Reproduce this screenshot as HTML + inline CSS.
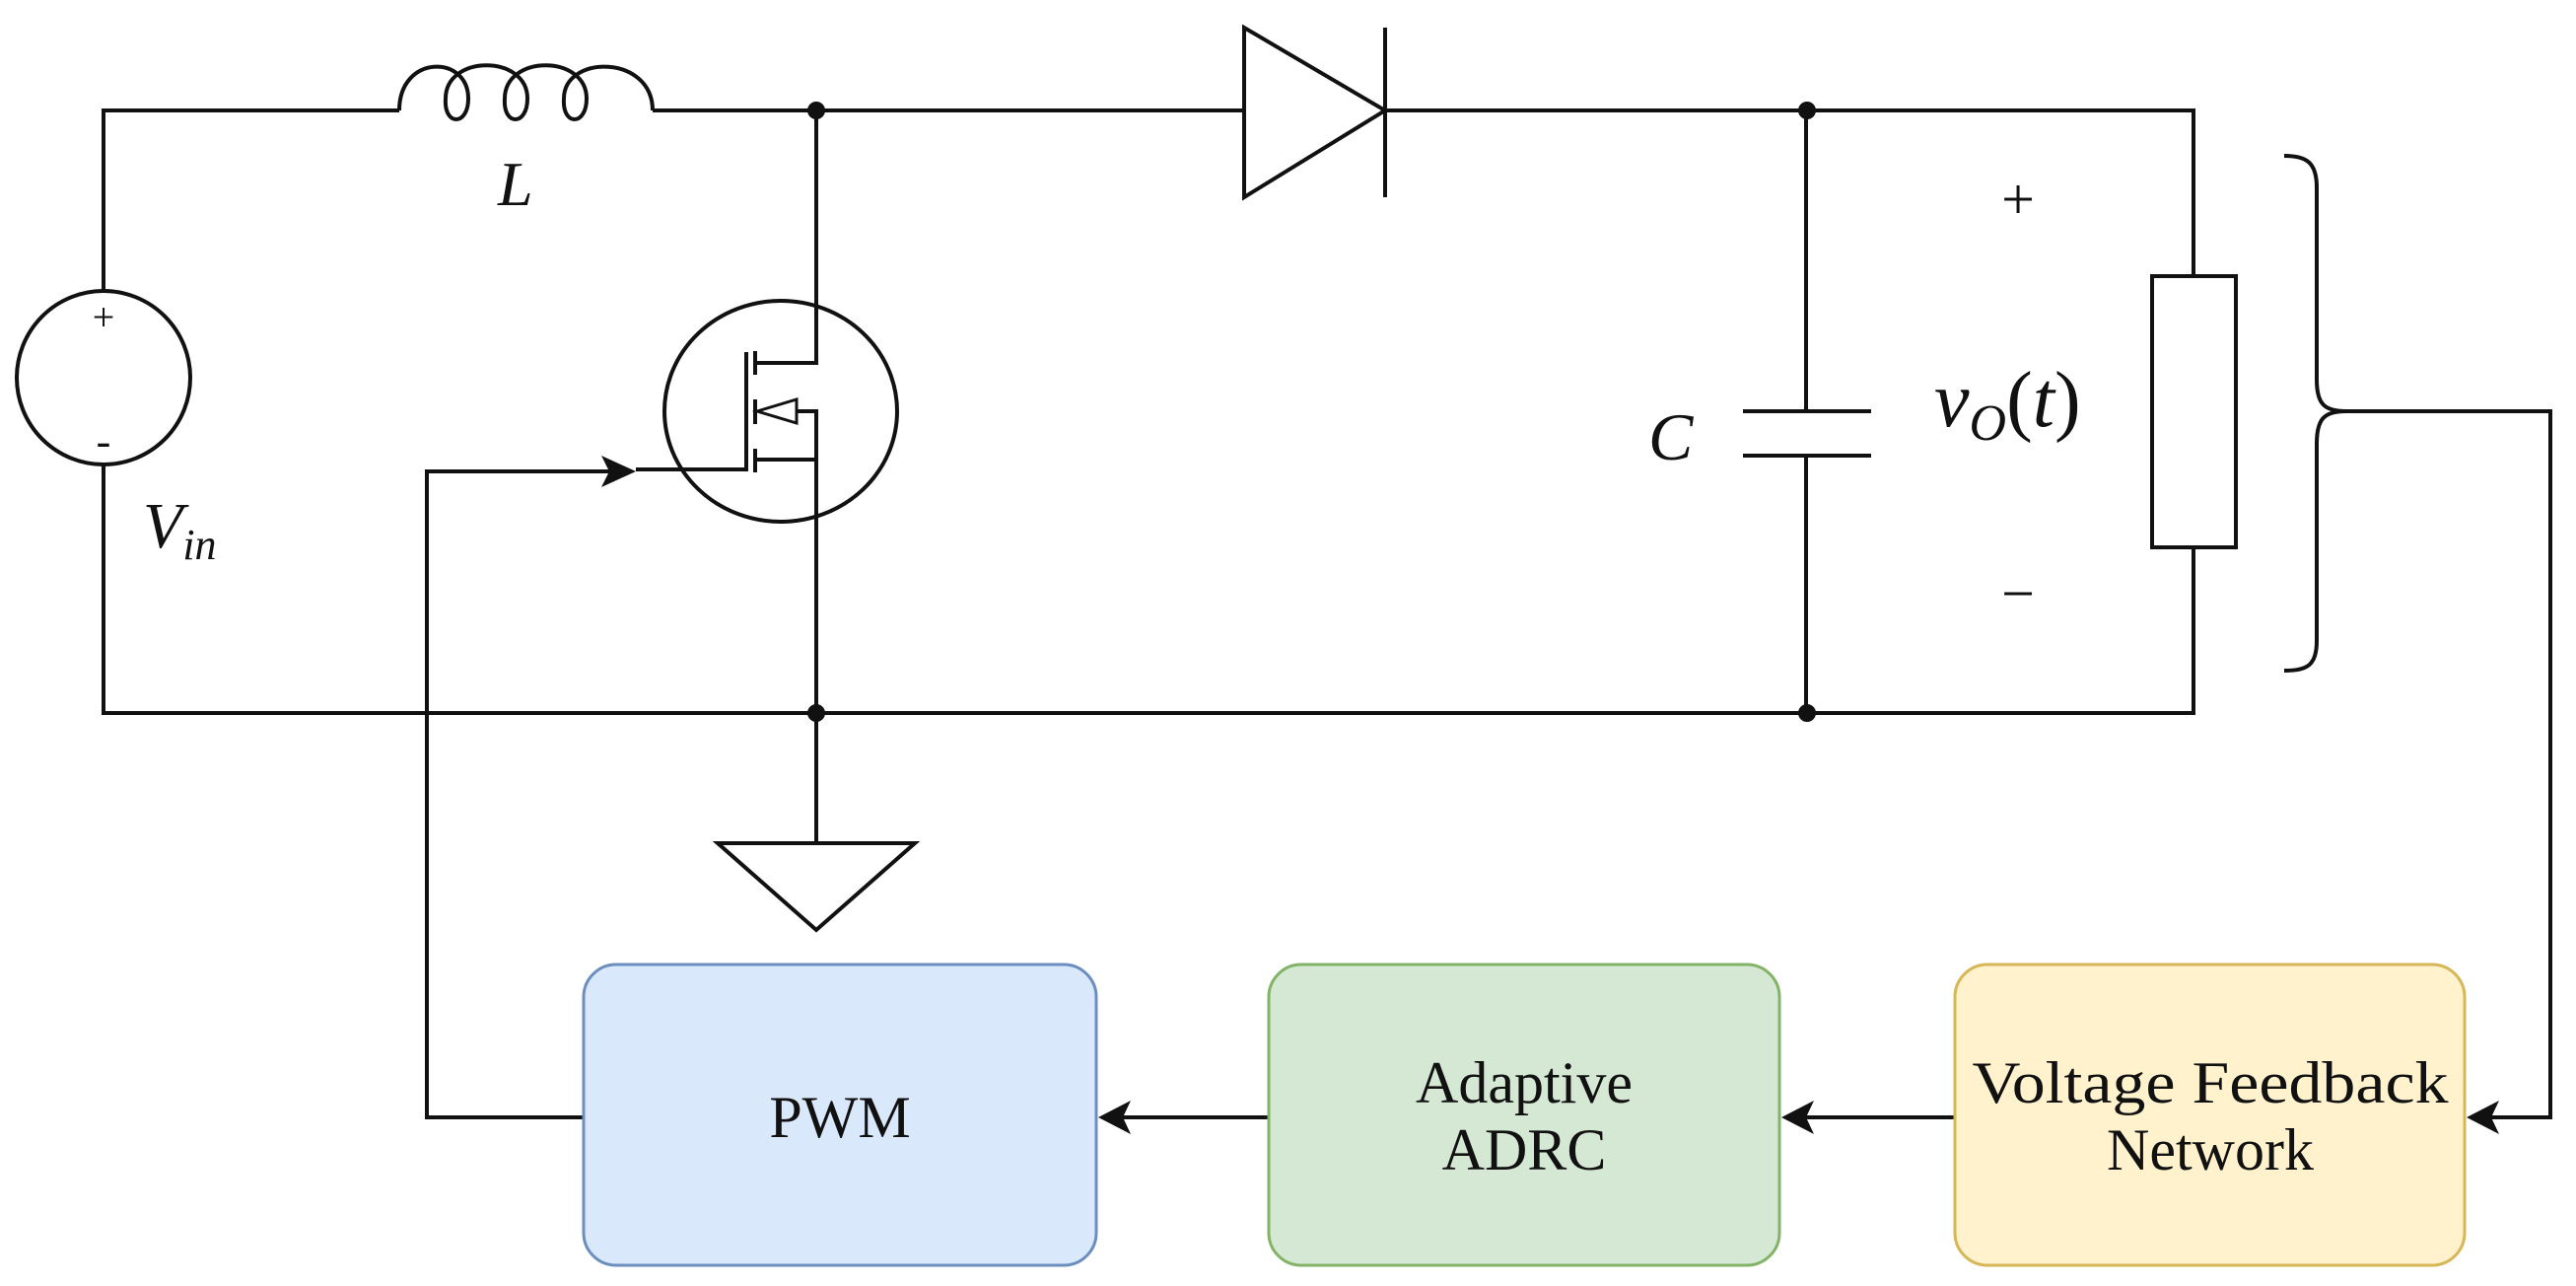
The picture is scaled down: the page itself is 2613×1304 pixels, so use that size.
<!DOCTYPE html>
<html><head><meta charset="utf-8"><style>
html,body{margin:0;padding:0;background:#fff;}
svg{display:block;}
</style></head><body>
<svg width="2613" height="1304" viewBox="0 0 2613 1304" xmlns="http://www.w3.org/2000/svg">
<rect width="2613" height="1304" fill="#fff"/>
<g stroke="#111" stroke-width="4" fill="none">
 <!-- top wire -->
 <polyline points="105,295 105,112 405,112"/>
 <path d="M405,112 C405,55 475,55 475,100 C475,128 450,128 452,100 C452,55 535,55 535,100 C535,128 510,128 512,100 C512,55 595,55 595,100 C595,128 570,128 572,100 C572,55 662,55 662,112"/>
 <line x1="662" y1="112" x2="1262" y2="112"/>
 <polygon points="1262,28 1262,200 1405,112"/>
 <line x1="1405" y1="28" x2="1405" y2="200"/>
 <polyline points="1405,112 2225,112 2225,280"/>
 <rect x="2183" y="280" width="85" height="275"/>
 <polyline points="2225,555 2225,723 105,723 105,471"/>
 <!-- source -->
 <ellipse cx="105" cy="383" rx="88" ry="88"/>
 <!-- capacitor -->
 <line x1="1832" y1="112" x2="1832" y2="417"/>
 <line x1="1768" y1="417" x2="1898" y2="417"/>
 <line x1="1768" y1="462" x2="1898" y2="462"/>
 <line x1="1832" y1="462" x2="1832" y2="723"/>
 <!-- mosfet -->
 <ellipse cx="792" cy="417" rx="118" ry="112"/>
 <polyline points="828,112 828,368 768,368"/>
 <polyline points="768,466 828,466 828,723"/>
 <polyline points="808,417 828,417 828,466"/>
 <polygon points="768,417 808,405 808,429" stroke-width="3"/>
 <line x1="766" y1="356" x2="766" y2="380"/>
 <line x1="766" y1="405" x2="766" y2="430"/>
 <line x1="766" y1="455" x2="766" y2="479"/>
 <polyline points="757,357 757,476 645,476"/>
 <!-- gate feedback -->
 <polyline points="592,1133 433,1133 433,478 630,478"/>
 <!-- ground -->
 <line x1="828" y1="723" x2="828" y2="855"/>
 <polygon points="728,855 928,855 828,943"/>
 <!-- brace -->
 <path d="M2317,158 C2340,158 2350,165 2350,190 L2350,385 C2350,410 2358,417 2380,417 C2358,417 2350,424 2350,450 L2350,650 C2350,675 2340,680 2317,680"/>
 <polyline points="2380,417 2587,417 2587,1133 2525,1133"/>
 <line x1="1983" y1="1133" x2="1830" y2="1133"/>
 <line x1="1287" y1="1133" x2="1135" y2="1133"/>
</g>
<g fill="#111">
 <circle cx="828" cy="112" r="9"/>
 <circle cx="828" cy="723" r="9"/>
 <circle cx="1833" cy="112" r="9"/>
 <circle cx="1833" cy="723" r="9"/>
 <polygon points="645,478 610,462 618,478 610,494"/>
 <polygon points="2502,1133 2535,1116 2527,1133 2535,1150"/>
 <polygon points="1807,1133 1840,1116 1832,1133 1840,1150"/>
 <polygon points="1114,1133 1147,1116 1139,1133 1147,1150"/>
</g>
<!-- boxes -->
<rect x="592" y="978" width="520" height="305" rx="33" fill="#dae8fc" stroke="#6c8ebf" stroke-width="3"/>
<rect x="1287" y="978" width="518" height="305" rx="33" fill="#d5e8d4" stroke="#82b366" stroke-width="3"/>
<rect x="1983" y="978" width="517" height="305" rx="33" fill="#fff2cc" stroke="#d6b656" stroke-width="3"/>
<g font-family="Liberation Serif, serif" font-size="60" fill="#111" text-anchor="middle">
 <text x="852" y="1153">PWM</text>
 <text x="1546" y="1118">Adaptive</text>
 <text x="1546" y="1186">ADRC</text>
 <text x="2242" y="1118" textLength="483" lengthAdjust="spacingAndGlyphs">Voltage Feedback</text>
 <text x="2242" y="1186">Network</text>
</g>
<g font-family="Liberation Serif, serif" fill="#111">
 <text x="105" y="335" font-size="40" text-anchor="middle">+</text>
 <text x="105" y="462" font-size="44" text-anchor="middle">-</text>
 <text x="145" y="555" font-size="66" font-style="italic">V<tspan font-size="44" dy="12">in</tspan></text>
 <text x="505" y="208" font-size="64" font-style="italic">L</text>
 <text x="1672" y="466" font-size="68" font-style="italic">C</text>
 <text x="2047" y="222" font-size="60" text-anchor="middle">+</text>
 <text x="2047" y="622" font-size="60" text-anchor="middle">−</text>
 <text x="1962" y="432" font-size="80"><tspan font-style="italic">v</tspan><tspan font-size="52" font-style="italic" dy="14">O</tspan><tspan dy="-14">(</tspan><tspan font-style="italic">t</tspan>)</text>
</g>
</svg>
</body></html>
